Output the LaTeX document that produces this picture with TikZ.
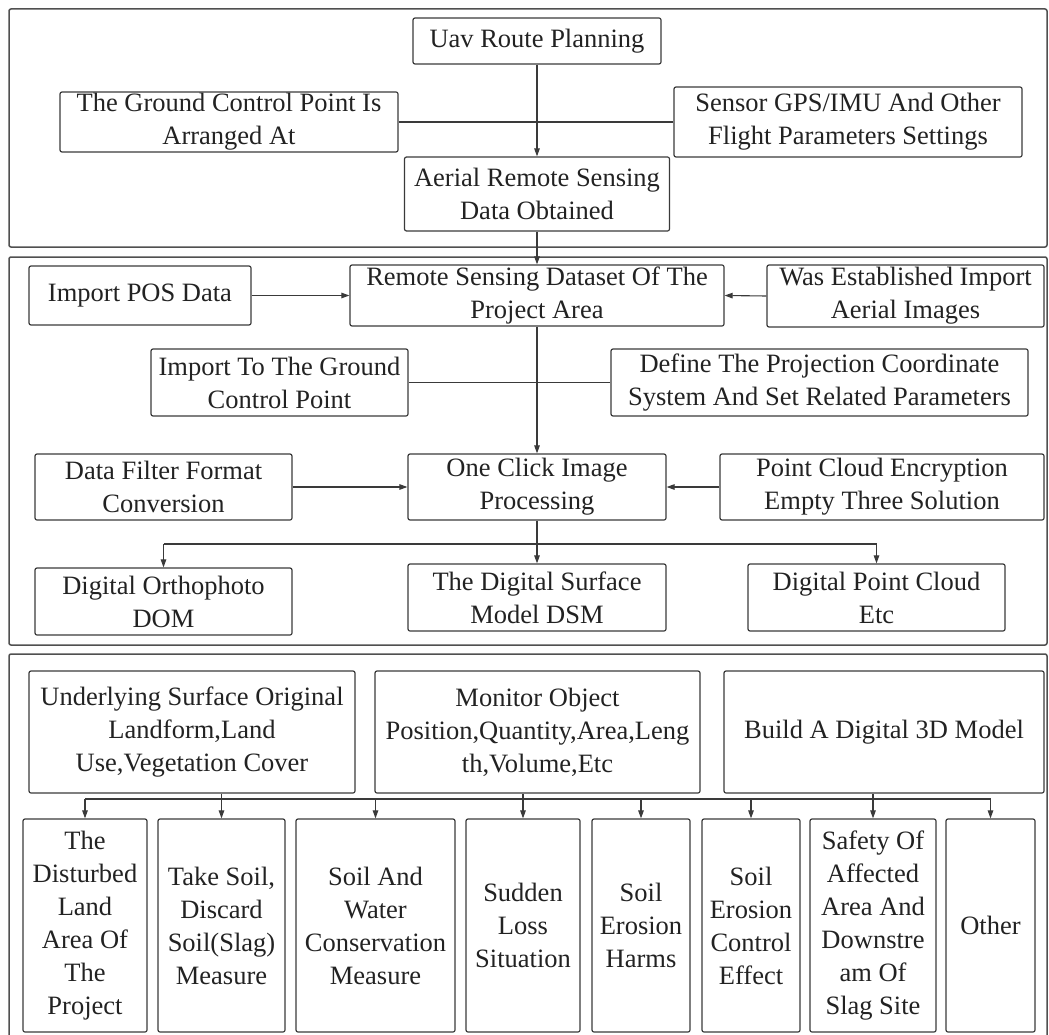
\documentclass[tikz,border=0pt]{standalone}
\usepackage{fontspec}
\setmainfont{Liberation Serif}
\newfontfamily\tnr{Liberation Serif}
\usetikzlibrary{arrows.meta}
\definecolor{ln}{HTML}{3A3A3A}
\definecolor{fr}{HTML}{505050}
\definecolor{tx}{HTML}{222222}
\tikzset{
  box/.style={draw=ln, line width=1.2pt, rounded corners=2pt, align=center, inner sep=1pt,
    text=tx, font=\tnr\fontsize{26.5}{33}\selectfont},
  frame/.style={draw=fr, line width=1.5pt, rounded corners=2pt},
  conn/.style={draw=ln, line width=1.1pt},
  arr/.style={conn, -{Triangle[length=8pt,width=5.5pt]}}
}
\begin{document}
\begin{tikzpicture}[x=1pt,y=-1pt]
\useasboundingbox (0,0) rectangle (1049,1035);
% frames
\draw[frame] (9,9) rectangle (1047,247);
\draw[frame] (9,257) rectangle (1047,645);
\draw[frame] (9,654) rectangle (1047,1040);
% top section
\node[box, minimum width=248, minimum height=46] (uav) at (537,41) {Uav Route Planning};
\node[box, minimum width=338, minimum height=60] (gcp) at (229,122) {The Ground Control Point Is\\Arranged At};
\node[box, minimum width=348, minimum height=70] (sensor) at (848,122) {Sensor GPS/IMU And Other\\Flight Parameters Settings};
\node[box, minimum width=265, minimum height=74] (aerial) at (537,194) {Aerial Remote Sensing\\Data Obtained};
% middle section
\node[box, minimum width=222, minimum height=59] (pos) at (140,295.5) {Import POS Data};
\node[box, minimum width=374, minimum height=61] (dataset) at (537,295.5) {Remote Sensing Dataset Of The\\Project Area};
\node[box, minimum width=277, minimum height=62] (was) at (905.5,296) {Was Established Import\\Aerial Images};
\node[box, minimum width=257, minimum height=67] (imgcp) at (279.5,382.5) {Import To The Ground\\Control Point};
\node[box, minimum width=417, minimum height=67] (define) at (819.5,382.5) {Define The Projection Coordinate\\System And Set Related Parameters};
\node[box, minimum width=257, minimum height=66] (filter) at (163.5,487) {Data Filter Format\\Conversion};
\node[box, minimum width=258, minimum height=66] (oneclick) at (537,487) {One Click Image\\Processing};
\node[box, minimum width=324, minimum height=66] (cloud) at (882,487) {Point Cloud Encryption\\Empty Three Solution};
\node[box, minimum width=257, minimum height=67] (dom) at (163.5,601.5) {Digital Orthophoto\\DOM};
\node[box, minimum width=258, minimum height=67] (dsm) at (537,597.5) {The Digital Surface\\Model DSM};
\node[box, minimum width=257, minimum height=67] (dpc) at (876.5,597.5) {Digital Point Cloud\\Etc};
% bottom section
\node[box, minimum width=326, minimum height=122] (under) at (192,732) {Underlying Surface Original\\Landform,Land\\Use,Vegetation Cover};
\node[box, minimum width=325, minimum height=122] (monitor) at (537.5,732) {Monitor Object\\Position,Quantity,Area,Leng\\th,Volume,Etc};
\node[box, minimum width=320, minimum height=122] (build) at (884,732) {Build A Digital 3D Model};
\node[box, minimum width=124, minimum height=213] (b1) at (85,925.5) {The\\Disturbed\\Land\\Area Of\\The\\Project};
\node[box, minimum width=127, minimum height=213] (b2) at (221.5,925.5) {Take Soil,\\Discard\\Soil(Slag)\\Measure};
\node[box, minimum width=159, minimum height=213] (b3) at (375.5,925.5) {Soil And\\Water\\Conservation\\Measure};
\node[box, minimum width=114, minimum height=213] (b4) at (523,925.5) {Sudden\\Loss\\Situation};
\node[box, minimum width=98, minimum height=213] (b5) at (641,925.5) {Soil\\Erosion\\Harms};
\node[box, minimum width=98, minimum height=213] (b6) at (751,925.5) {Soil\\Erosion\\Control\\Effect};
\node[box, minimum width=126, minimum height=213] (b7) at (873,925.5) {Safety Of\\Affected\\Area And\\Downstre\\am Of\\Slag Site};
\node[box, minimum width=89, minimum height=213] (b8) at (990.5,925.5) {Other};
% helper coordinates
\coordinate (br) at (0,544);
\coordinate (bus) at (0,799);
% top connectors
\draw[conn] (gcp.east) -- (sensor.west);
\draw[arr] (uav.south) -- (aerial.north);
\draw[arr] (aerial.south) -- (dataset.north);
% middle connectors
\draw[arr] (pos.east) -- (dataset.west);
\draw[arr] (was.west) -- (dataset.east);
\draw[conn] (imgcp.east) -- (define.west);
\draw[arr] (dataset.south) -- (oneclick.north);
\draw[arr] (filter.east) -- (oneclick.west);
\draw[arr] (cloud.west) -- (oneclick.east);
\draw[conn] (oneclick.south) -- (oneclick.south |- br);
\draw[conn] (dom.north |- br) -- (dpc.north |- br);
\draw[arr] (dom.north |- br) -- (dom.north);
\draw[arr] (dsm.north |- br) -- (dsm.north);
\draw[arr] (dpc.north |- br) -- (dpc.north);
% bottom connectors
\draw[conn] (b2.north |- under.south) -- (b2.north |- bus);
\draw[conn] (b4.north |- monitor.south) -- (b4.north |- bus);
\draw[conn] (b7.north |- build.south) -- (b7.north |- bus);
\draw[conn] (b1.north |- bus) -- (b8.north |- bus);
\foreach \b in {b1,b2,b3,b4,b5,b6,b7,b8}
  \draw[arr] (\b.north |- bus) -- (\b.north);
\end{tikzpicture}
\end{document}
